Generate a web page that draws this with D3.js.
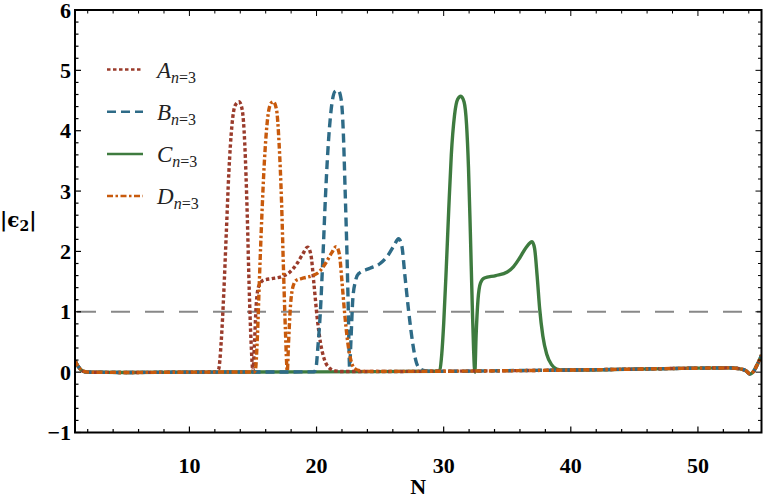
<!DOCTYPE html>
<html><head><meta charset="utf-8">
<script src="https://cdn.jsdelivr.net/npm/d3@7/dist/d3.min.js"></script>
<style>body{margin:0;background:#fff}svg{display:block}</style>
</head><body>
<svg id="c" width="764" height="501"></svg>
<script>
// ---- data ----
const xTicksMajor = [10, 20, 30, 40, 50];
const yTicksMajor = [-1, 0, 1, 2, 3, 4, 5, 6];
const threshold = 1;

const seriesA = [[1,0.19],[1.3,0.08],[1.6,0.02],[2,0],[5,-0.005],[10,0],[12.1,0.005],[12.3,0.05],[12.5,0.5],[12.7,1.3],[12.9,2.3],[13.1,3.3],[13.35,4.1],[13.6,4.42],[13.9,4.48],[14.15,4.35],[14.35,3.8],[14.55,2.6],[14.7,1.4],[14.85,0.5],[15.0,0.02],[15.1,0.4],[15.25,1.1],[15.45,1.42],[15.8,1.52],[16.5,1.55],[17.2,1.58],[17.8,1.64],[18.4,1.78],[18.9,1.95],[19.3,2.07],[19.55,1.95],[19.8,1.45],[20.05,0.9],[20.3,0.5],[20.6,0.22],[21.0,0.07],[21.5,0.02],[22,0.01],[30,0.015],[40,0.035],[45,0.05],[50,0.066],[52.5,0.07],[53.3,0.055],[53.8,0.02],[54.1,-0.03],[54.4,0.02],[54.7,0.14],[55,0.28]];

const seriesB = [[1,0.19],[1.3,0.08],[1.6,0.02],[2,0],[5,-0.005],[10,0],[15,0.002],[19.8,0.005],[19.95,0.06],[20.1,0.4],[20.3,1.0],[20.5,1.9],[20.7,2.9],[20.9,3.7],[21.15,4.35],[21.45,4.65],[21.7,4.67],[21.95,4.5],[22.1,4.0],[22.25,3.0],[22.4,1.9],[22.5,1.0],[22.6,0.08],[22.7,0.5],[22.85,1.2],[23.05,1.5],[23.3,1.63],[24.2,1.72],[25.0,1.8],[25.6,1.93],[26.1,2.1],[26.45,2.21],[26.7,2.1],[26.95,1.6],[27.25,1.0],[27.55,0.5],[27.8,0.2],[28.1,0.06],[28.6,0.02],[29.2,0.012],[35,0.025],[40,0.035],[45,0.05],[50,0.066],[52.5,0.07],[53.3,0.055],[53.8,0.02],[54.1,-0.03],[54.4,0.02],[54.7,0.14],[55,0.28]];

const seriesC = [[1,0.19],[1.3,0.08],[1.6,0.02],[2,0],[5,-0.005],[10,0],[20,0.005],[29.5,0.015],[29.7,0.04],[29.85,0.3],[30.0,0.8],[30.2,1.7],[30.4,2.7],[30.6,3.6],[30.85,4.25],[31.1,4.52],[31.35,4.57],[31.6,4.48],[31.8,4.1],[31.95,3.4],[32.1,2.3],[32.25,1.1],[32.35,0.4],[32.45,0.0],[32.55,0.6],[32.7,1.2],[32.9,1.48],[33.2,1.56],[34.1,1.6],[35.0,1.66],[35.5,1.75],[36.0,1.9],[36.5,2.07],[36.95,2.16],[37.15,2.05],[37.35,1.6],[37.55,1.05],[37.8,0.6],[38.1,0.3],[38.5,0.12],[38.9,0.05],[39.4,0.035],[45,0.05],[50,0.066],[52.5,0.07],[53.3,0.055],[53.8,0.02],[54.1,-0.03],[54.4,0.02],[54.7,0.14],[55,0.28]];

const seriesD = [[1,0.19],[1.3,0.08],[1.6,0.02],[2,0],[5,-0.005],[10,0],[15.1,0.003],[15.2,0.05],[15.35,0.6],[15.5,1.5],[15.7,2.6],[15.9,3.5],[16.15,4.2],[16.4,4.45],[16.6,4.48],[16.85,4.35],[17.05,3.8],[17.25,2.8],[17.4,1.7],[17.55,0.7],[17.7,0.02],[17.8,0.5],[17.95,1.1],[18.15,1.42],[18.4,1.52],[19.0,1.56],[19.7,1.6],[20.2,1.66],[20.7,1.8],[21.2,1.98],[21.55,2.08],[21.8,1.95],[22.0,1.5],[22.2,1.0],[22.45,0.5],[22.7,0.2],[23.0,0.06],[23.5,0.02],[24,0.012],[30,0.015],[40,0.035],[45,0.05],[50,0.066],[52.5,0.07],[53.3,0.055],[53.8,0.02],[54.1,-0.03],[54.4,0.02],[54.7,0.14],[55,0.28]];

const seriesNames = ["A", "B", "C", "D"];
const seriesColors = ["#9a3b2b", "#2e6b87", "#3e7b3f", "#c85a0c"];
const seriesDash = ["3.5,2.5", "9,5", null, "6,2.5,2.5,2.5"];

// ---- layout ----
const svg = d3.select("#c");
const L = 75, R = 761.5, T = 10, B = 432.5;
const x = d3.scaleLinear().domain([1, 55]).range([L, R]);
const y = d3.scaleLinear().domain([-1, 6]).range([B, T]);

svg.append("defs").append("clipPath").attr("id","clip")
  .append("rect").attr("x",L).attr("y",T).attr("width",R-L).attr("height",B-T);

// threshold line
svg.append("line").attr("x1",L).attr("x2",R).attr("y1",y(threshold)).attr("y2",y(threshold))
  .attr("stroke","#888").attr("stroke-width",2).attr("stroke-dasharray","19,15")
  .attr("stroke-dashoffset",-2);

// curves
const line = d3.line().x(d=>x(d[0])).y(d=>y(d[1])).curve(d3.curveMonotoneX);
const data = [seriesA, seriesB, seriesC, seriesD];
const order = [2, 0, 1, 3];
const g = svg.append("g").attr("clip-path","url(#clip)");
order.forEach(i=>{
  g.append("path").datum(data[i]).attr("d", line)
    .attr("fill","none").attr("stroke",seriesColors[i]).attr("stroke-width",3.4)
    .attr("stroke-dasharray", seriesDash[i]).attr("stroke-linejoin","round");
});

// axes (frame with inward ticks)
const xMinor = d3.range(2, 55, 2);
const yMinor = d3.range(-1, 6.001, 0.2).map(v=>+v.toFixed(1));
const ax = svg.append("g").attr("stroke","#000");
const isMajX = v => v % 10 === 0;
const isMajY = v => Math.abs(v - Math.round(v)) < 1e-6;
xMinor.forEach(v=>{
  const len = isMajX(v) ? 6 : 3.5;
  ax.append("line").attr("x1",x(v)).attr("x2",x(v)).attr("y1",B).attr("y2",B-len).attr("stroke-width",1.2);
  ax.append("line").attr("x1",x(v)).attr("x2",x(v)).attr("y1",T).attr("y2",T+len).attr("stroke-width",1);
});
yMinor.forEach(v=>{
  const len = isMajY(v) ? 6 : 3.5;
  ax.append("line").attr("x1",L).attr("x2",L+len).attr("y1",y(v)).attr("y2",y(v)).attr("stroke-width",1.2);
  ax.append("line").attr("x1",R).attr("x2",R-len).attr("y1",y(v)).attr("y2",y(v)).attr("stroke-width",1);
});
svg.append("rect").attr("x",L).attr("y",T).attr("width",R-L).attr("height",B-T)
  .attr("fill","none").attr("stroke","#000").attr("stroke-width",2);

// tick labels
const lab = svg.append("g").attr("font-family","'Liberation Serif', serif").attr("font-weight","bold").attr("font-size",22).attr("fill","#000");
yTicksMajor.forEach(v=>{
  lab.append("text").attr("x",71).attr("y",y(v)+7.5).attr("text-anchor","end").text(v<0 ? "\u2212"+Math.abs(v) : v);
});
xTicksMajor.forEach(v=>{
  lab.append("text").attr("x",x(v)).attr("y",473).attr("text-anchor","middle").text(v);
});
lab.append("text").attr("x",(L+R)/2).attr("y",494).attr("text-anchor","middle").text("N");

// y label
const yl = svg.append("text").attr("x",0).attr("y",227).attr("font-family","'DejaVu Serif', serif")
  .attr("font-size",20).attr("font-weight","bold").attr("fill","#000");
yl.append("tspan").text("|\u03F5");
yl.append("tspan").attr("font-size",14).attr("dy",4).text("2");
yl.append("tspan").attr("dy",-4).text("|");

// legend
const legY = [69.5, 111.7, 154, 196];
const leg = svg.append("g");
seriesNames.forEach((n,i)=>{
  leg.append("line").attr("x1",107).attr("x2",143).attr("y1",legY[i]).attr("y2",legY[i])
    .attr("stroke",seriesColors[i]).attr("stroke-width",2.4).attr("stroke-dasharray",seriesDash[i]);
  const t = leg.append("text").attr("x",157).attr("y",legY[i]+8).attr("font-family","'Liberation Serif', serif")
    .attr("font-size",23).attr("fill","#222");
  t.append("tspan").attr("font-style","italic").text(n);
  t.append("tspan").attr("font-size",16).attr("dy",5).attr("font-style","italic").text("n");
  t.append("tspan").attr("font-size",16).text("=3");
});
</script>
</body></html>
